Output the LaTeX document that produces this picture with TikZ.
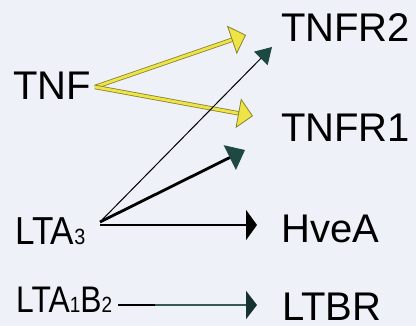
\documentclass[tikz,border=0pt]{standalone}
\usepackage{fontspec}
\setmainfont{Liberation Sans}
\usetikzlibrary{arrows.meta}
\definecolor{bgc}{RGB}{239,241,248}
\definecolor{yfill}{RGB}{238,228,70}
\definecolor{yedge}{RGB}{135,130,50}
\definecolor{tealc}{RGB}{30,72,66}
\definecolor{tealline}{RGB}{52,92,84}
\tikzset{
  lbl/.style={inner sep=0pt, anchor=base west, font=\fontsize{40}{40}\selectfont},
  yunder/.style={line width=4.4pt, draw=yedge, shorten >=12pt},
  yarrow/.style={line width=2.8pt, draw=yfill,
    -{Triangle[length=15pt 0 0,width=30pt 0 0,color=yedge,fill=yfill,line width=0.8pt]}},
  thinarrow/.style={line width=1pt, draw=black,
    -{Triangle[length=16pt 0 0,width=19pt 0 0,color=tealc,fill=tealc]}},
  thickarrow/.style={line width=2.8pt, draw=black,
    -{Triangle[length=17pt 0 0,width=27pt 0 0,color=tealc,fill=tealc]}},
  blackarrow/.style={line width=2.4pt, draw=black,
    -{Triangle[length=11pt 0 0,width=30pt 0 0,color=black,fill=black]}},
  tealarrow/.style={line width=2.8pt, draw=tealline,
    -{Triangle[length=11pt 0 0,width=28pt 0 0,color=tealc!70!black,fill=tealc!70!black]}},
}
\begin{document}
\begin{tikzpicture}[x=1pt,y=-1pt]
\fill[bgc] (0,0) rectangle (416,326);
\useasboundingbox (0,0) rectangle (416,326);
% labels
\node[lbl] (tnf) at (13,100) {TNF};
\node[lbl] (tnfr2) at (281,42) {TNFR2};
\node[lbl] (tnfr1) at (281,142) {TNFR1};
\node[lbl] (hvea) at (281,243) {HveA};
\node[lbl] (ltbr) at (282,321) {LTBR};
\node[lbl] (lta3) at (15,245) {\scalebox{0.9}[1]{\fontsize{39}{39}\selectfont LTA{\fontsize{22}{22}\selectfont 3}}};
\node[lbl] (lta1b2) at (16,313) {\scalebox{0.86}[1]{\fontsize{37}{37}\selectfont LTA{\fontsize{22}{22}\selectfont 1}B{\fontsize{22}{22}\selectfont 2}}};
% connector points
\coordinate (tnfout) at (95,87);
\coordinate (r2y) at (246,35);
\coordinate (r1y) at (253,116);
\coordinate (ltaout) at (100,222);
\coordinate (ltahv) at (100,225);
\coordinate (r2t) at (272,47);
\coordinate (midtip) at (245,150);
\coordinate (hvtip) at (257,225);
\coordinate (lbout) at (118,305);
\coordinate (lbmid) at (155,305);
\coordinate (lbtip) at (257,305);
% yellow arrows
\draw[yunder] (tnfout) -- (r2y);
\draw[yarrow] (tnfout) -- (r2y);
\draw[yunder] (tnfout) -- (r1y);
\draw[yarrow] (tnfout) -- (r1y);
% LTA3 arrows
\draw[thinarrow] (ltaout) -- (r2t);
\draw[thickarrow] (ltaout) -- (midtip);
\draw[blackarrow] (ltahv) -- (hvtip);
% LTA1B2 arrow
\draw[line width=2.6pt, black] (lbout) -- (lbmid);
\draw[tealarrow] (lbmid) -- (lbtip);
\end{tikzpicture}
\end{document}
